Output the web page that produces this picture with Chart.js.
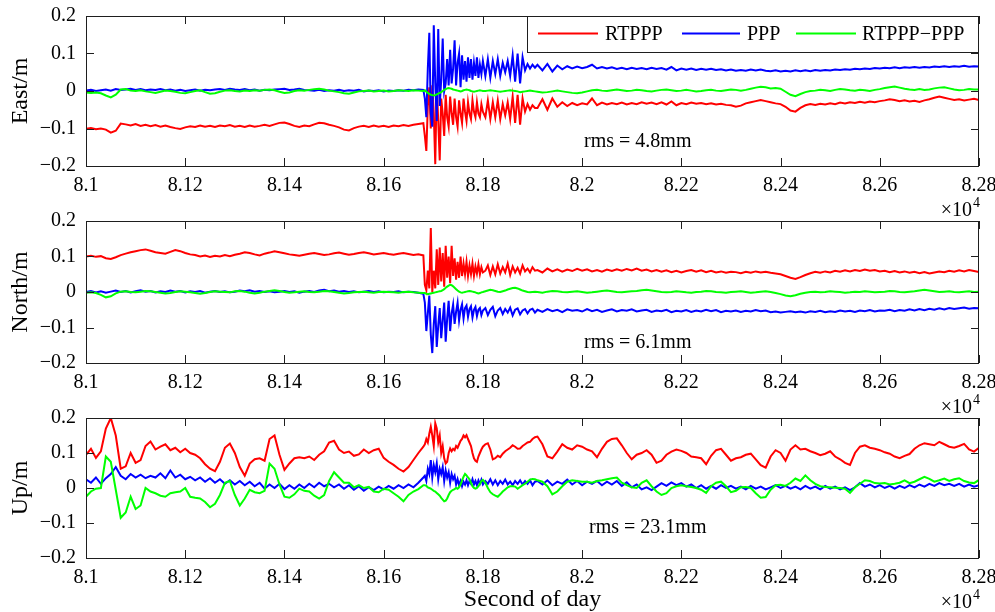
<!DOCTYPE html>
<html>
<head>
<meta charset="utf-8">
<script src="https://cdn.jsdelivr.net/npm/chart.js@4.4.0/dist/chart.umd.min.js"></script>
<style>
html,body{margin:0;padding:0;background:#fff;}
#wrap{position:relative;width:995px;height:612px;overflow:hidden;background:#fff;}
#wrap canvas{position:absolute;left:0;}
</style>
</head>
<body>
<div id="wrap">
<canvas id="c1" width="995" height="225" style="top:0px"></canvas>
<canvas id="c2" width="995" height="225" style="top:195px"></canvas>
<canvas id="c3" width="995" height="220" style="top:392px"></canvas>
</div>
<script>
// ---------------- data (values in mm, x in seconds of day) ----------------
const timeSegments = [[81000, 81680, 10], [81683, 81800, 3], [81805, 81905, 5], [81910, 82800, 10]];
const seriesLabels = ['RTPPP', 'PPP', 'RTPPP\u2212PPP'];
const panelTitles = ['East/m', 'North/m', 'Up/m'];
const rmsTexts = ['rms = 4.8mm', 'rms = 6.1mm', 'rms = 23.1mm'];
const xTickValues = [81000, 81200, 81400, 81600, 81800, 82000, 82200, 82400, 82600, 82800];
const xTickLabels = ['8.1', '8.12', '8.14', '8.16', '8.18', '8.2', '8.22', '8.24', '8.26', '8.28'];
const yTickValues = [-0.2, -0.1, 0, 0.1, 0.2];
const yTickLabels = ['\u22120.2', '\u22120.1', '0', '0.1', '0.2'];
const xAxisTitle = 'Second of day';

const eastRtppp = [
-101,-99,-102,-100,-103,-111,-106,-87,-89,-92, -88,-93,-90,-94,-91,-95,-92,-96,-99,-101, -97,-94,-96,-92,-95,-93,-96,-92,-94,-91, -95,-93,-96,-92,-95,-93,-90,-93,-89,-85, -84,-88,-93,-96,-92,-94,-89,-85,-86,-90, -93,-97,-103,-105,-99,-95,-93,-96,-92,-95, -93,-96,-92,-94,-91,-93,-90,-88,-86,
-120,-160,-40,10,-100,15,-60,-195,20,-80, -185,-20,-60,-120,-10,-70,-95,-15,-60,-90, -20,-70,-95,-25,-60,-85,-20,-55,-80,-30, -60,-75,-25,-55,-70,-30,-60,-70,-35,-55,
-70,-25,-75,-30,-70,-25,-75,-35,-65,-30,-75,-15,-85,-10,-90,-20,-55,-35,-50,-38,-45,
-45,-22,-50,-20,-42,-30,-40,-32,-38,-33, -36,-20,-38,-31,-36,-32,-35,-31,-36,-32, -35,-30,-34,-31,-35,-30,-36,-28,-38,-32, -35,-31,-34,-32,-35,-33,-36,-34,-37,-38, -42,-39,-33,-30,-27,-24,-27,-30,-33,-35, -42,-52,-55,-45,-38,-35,-37,-34,-36,-33, -35,-31,-33,-30,-32,-29,-31,-28,-30,-27, -25,-22,-24,-27,-25,-28,-26,-29,-25,-22, -18,-15,-18,-21,-24,-22,-25,-23,-21,-24];
const eastPpp = [
1,3,0,2,4,1,5,3,4,6, 3,5,2,4,3,5,2,4,1,3, 0,2,4,1,3,2,4,5,3,6, 4,3,5,2,4,1,3,2,4,5, 6,3,4,6,3,2,1,3,0,2, 1,3,0,2,1,3,-1,1,0,2, -1,1,0,2,1,3,2,4,3,
-20,-70,60,155,-60,-95,175,20,-80,165, -40,30,140,0,20,85,15,110,20,60, 135,15,75,100,10,95,30,80,25,90, 35,85,30,75,40,90,35,70,45,80,
40,85,35,80,45,85,40,75,50,80,40,95,25,100,20,90,55,72,60,70,62,
70,55,72,52,68,58,66,60,65,61, 64,70,60,64,60,63,59,62,58,62, 59,61,58,62,59,61,57,64,55,60, 57,60,56,59,57,59,56,58,55,57, 54,56,54,57,55,57,54,53,55,52, 54,52,55,53,55,53,56,54,56,55, 57,56,58,57,59,58,60,59,61,60, 62,61,63,61,63,62,64,62,64,63, 65,64,66,64,66,65,67,65,66,65];
const eastDiff = [
-4,-5,-4,-6,-12,-17,-10,4,5,1, 0,2,-1,-3,-5,-2,1,0,-2,-5, -6,-3,0,2,-3,-7,-6,-2,1,2, 0,-1,1,0,2,1,3,4,2,-2, -5,-4,0,2,1,3,5,6,4,1, -1,-3,-6,-7,-4,-1,0,1,-1,0, 1,-1,0,2,1,0,2,1,0,
2,-2,-5,-8,-10,-11,-12,-11,-9,-7, -5,-3,0,3,5,7,8,7,6,4, 3,2,1,0,-1,0,2,3,4,3, 2,0,-1,-2,-1,0,1,2,1,0,
0,1,2,1,0,-1,-2,-1,0,1,2,1,0,-1,-3,-2,-1,0,1,0,-1,
-2,-4,-3,-1,1,-1,-3,-5,-6,-4, -1,2,3,1,0,2,4,2,0,1, 3,2,0,-1,1,3,4,2,0,1, 3,1,-1,0,2,3,1,0,2,4, 3,1,3,6,9,11,10,7,8,6, -2,-10,-14,-8,-3,0,1,3,2,0, 3,5,4,2,1,3,2,0,3,5, 8,10,12,9,6,4,3,5,3,4, 7,9,10,7,4,2,3,5,4,4];

const northRtppp = [
100,102,99,101,95,93,98,104,108,112, 115,118,120,116,112,110,108,113,118,115, 110,106,104,100,103,99,102,100,104,101, 105,108,112,110,106,103,108,111,115,112, 109,106,104,102,105,108,110,107,104,106, 109,111,108,105,107,110,112,109,106,108, 110,107,105,108,110,107,104,106,103,
20,5,60,10,180,0,60,10,120,20, 125,30,110,15,130,40,100,25,130,45, 95,35,85,40,100,45,80,50,85,45, 75,50,80,45,72,52,78,50,70,55,
60,75,48,72,50,78,52,70,55,80,48,72,55,68,52,75,58,66,55,70,60,
62,55,66,58,64,57,63,59,65,60, 64,58,62,57,63,59,64,60,65,61, 66,60,63,58,62,57,61,56,60,55, 59,62,57,61,56,60,55,58,54,57, 56,53,57,54,58,55,57,54,52,50, 45,40,37,42,48,53,57,54,58,55, 60,57,61,58,62,59,63,60,62,58, 60,56,59,55,58,54,57,53,56,52, 55,58,56,60,57,61,58,62,59,56];
const northPpp = [
0,3,-1,2,-2,1,4,0,3,-1, 2,5,1,3,-1,2,0,4,1,3, -1,2,0,3,-2,1,3,0,2,-1, 1,4,2,5,1,3,0,2,-1,1, 3,0,2,-2,1,3,0,4,6,2, 4,1,3,0,2,-1,1,3,0,2, -1,1,0,2,-1,1,0,-2,-5,
-30,-110,-60,-10,-120,-172,-90,-40,-155,-95, -45,-130,-80,-30,-140,-75,-25,-110,-60,-35, -90,-55,-30,-80,-50,-35,-75,-45,-38,-70, -48,-40,-72,-50,-42,-68,-50,-45,-65,-52,
-45,-65,-50,-42,-68,-52,-45,-62,-48,-58,-44,-66,-50,-46,-63,-52,-48,-60,-50,-47,-58,
-50,-56,-48,-54,-50,-57,-49,-53,-51,-55, -48,-54,-50,-56,-52,-49,-55,-51,-53,-49, -55,-52,-50,-56,-52,-54,-50,-57,-53,-55, -51,-56,-52,-55,-50,-54,-51,-57,-53,-55, -52,-56,-53,-55,-51,-54,-52,-57,-55,-58, -56,-54,-57,-55,-58,-54,-56,-53,-57,-54, -56,-52,-55,-53,-56,-52,-54,-51,-55,-52, -53,-50,-54,-51,-53,-49,-52,-48,-51,-47, -50,-46,-49,-45,-48,-46,-44,-47,-45,-46];
const northDiff = [
-2,-1,-3,-8,-15,-12,-4,1,2,0, -1,1,3,2,0,-2,-4,-3,0,2, 1,-1,-3,-5,-3,0,2,1,0,-1, 2,3,1,-2,-4,-2,1,3,5,3, 0,-2,-1,1,2,0,-1,1,3,2, 0,-2,-4,-3,-1,0,1,-1,-2,0, 1,0,-1,-2,0,1,-1,-2,-3,
-3,-5,-6,-5,-4,-3,-2,-1,0,1, 2,3,5,8,12,15,18,20,19,16, 12,8,4,1,-1,-2,-1,0,1,2, 3,2,1,0,-1,-3,-4,-3,-1,0,
2,4,6,5,3,1,0,2,4,7,9,11,12,10,7,4,2,0,-1,0,1,
0,-2,1,3,2,0,-1,1,2,0, -2,-1,1,3,4,2,0,-1,1,2, 3,5,6,4,2,0,-1,0,2,1, -1,-2,0,1,3,2,0,-1,-2,0, 1,2,0,-2,-1,1,2,0,-3,-6, -10,-12,-9,-5,-2,0,1,-1,0,2, 1,0,-2,-1,1,0,2,1,-1,0, 1,3,2,0,-1,1,2,4,6,4, 2,0,1,2,0,-1,1,2,0,1];

const upRtppp = [
95,112,86,105,170,200,150,55,62,100, 72,80,120,133,110,118,125,108,115,102, 112,100,95,85,68,55,48,75,115,127, 100,60,35,70,82,85,78,140,150,95, 52,70,85,88,85,90,80,95,105,130, 135,110,100,104,92,96,110,100,108,112, 86,75,66,55,47,60,80,100,118,
125,140,130,155,175,150,120,185,170,130, 150,100,120,85,70,75,100,113,105,112, 108,120,115,125,135,140,150,145,151,140, 130,120,100,85,78,75,90,100,110,118,
125,128,110,82,85,92,88,98,105,110,115,122,118,112,113,120,125,130,132,140,145,
147,125,90,85,104,125,115,110,122,118, 110,105,88,112,132,140,142,122,100,82, 95,100,108,95,72,78,95,104,110,106, 100,90,88,85,68,92,108,112,95,78, 85,88,95,98,82,65,58,90,108,100, 78,110,122,110,112,105,100,94,98,105, 90,82,72,66,100,118,122,115,112,108, 102,98,90,85,92,97,112,122,128,125, 122,132,125,118,115,120,126,110,104,115];
const upPpp = [
25,15,30,12,28,40,60,35,25,40, 30,38,28,35,30,42,28,50,30,38, 25,32,22,30,18,28,15,25,12,22, 10,20,8,18,5,15,-2,10,0,12, -3,8,-2,10,0,12,2,15,5,12, 2,10,-2,8,-5,5,-8,2,-6,4, -4,6,-2,8,0,10,2,15,30,
35,20,55,40,80,30,65,45,70,25, 55,40,60,20,50,30,45,15,40,25, 35,10,25,8,20,5,18,10,22,8, 20,12,25,10,20,8,22,12,24,10,
20,12,25,10,22,8,20,12,24,10,18,8,20,12,22,10,20,12,22,8,18,
20,10,22,8,18,12,24,10,20,8, 18,12,20,8,18,10,20,6,16,2, 10,-4,2,-6,4,14,6,16,8,14, 4,10,0,8,-2,6,-2,8,0,6, -2,4,-4,6,-2,4,-4,2,8,0, 6,-2,4,-4,6,-2,4,-4,6,-2, 4,-4,2,-6,2,14,4,10,2,8, 0,6,-2,6,0,8,2,10,4,12, 6,14,8,12,6,12,4,10,4,8];
const upDiff = [
-25,-10,-2,0,90,75,-5,-85,-70,-25, -60,-50,0,-10,-15,-22,-25,-15,-12,-10, 0,-25,-28,-30,-40,-55,-45,-20,15,20, -20,-50,-30,-5,-12,-15,-8,70,55,10, -25,-28,-18,-2,-8,-10,-22,-30,-20,20, 45,30,15,15,2,8,0,3,-10,-12, -2,-5,-15,-25,-38,-20,-10,-3,8,
8,6,2,0,-2,-5,-8,-10,-14,-18, -22,-28,-33,-38,-36,-30,-20,-12,-8,-5, -3,0,-2,2,10,22,32,40,36,30, 25,15,5,0,-2,0,5,12,20,23,
15,0,-12,-18,-22,-25,-18,-10,-4,2,5,5,4,-2,3,8,12,18,24,26,25,
22,18,5,-18,-10,5,18,22,20,18, 18,15,20,22,25,28,30,15,8,2, 0,15,22,5,-10,-20,-15,0,5,8, 5,3,0,-5,-14,5,15,18,5,-12, -8,2,3,0,-15,-28,-26,-5,8,9, 6,15,27,20,36,22,12,5,3,2, 1,0,-2,-14,2,12,22,20,14,13, 14,10,12,15,22,14,18,25,32,26, 18,22,27,20,25,28,20,16,14,23];

// ---------------- chart building ----------------
const FONT = '"Liberation Serif", "Times New Roman", serif';
const COLORS = ['#ff0000', '#0000ff', '#00ff00'];
const TICK = 8;

const sampleTimes = [];
for (const [a, b, s] of timeSegments) for (let t = a; t <= b; t += s) sampleTimes.push(t);

function toPoints(mm) {
  const pts = [];
  for (let i = 0; i < sampleTimes.length && i < mm.length; i++) pts.push({x: sampleTimes[i], y: mm[i] / 1000});
  return pts;
}

const decorPlugin = {
  id: 'decor',
  afterDraw(chart, args, o) {
    const {ctx, chartArea: a, scales: {x, y}} = chart;
    ctx.save();
    ctx.strokeStyle = '#1e1e1e';
    ctx.lineWidth = 1;
    ctx.beginPath();
    for (const v of xTickValues) {
      const px = Math.round(x.getPixelForValue(v)) + 0.5;
      ctx.moveTo(px, a.bottom); ctx.lineTo(px, a.bottom - TICK);
      ctx.moveTo(px, a.top); ctx.lineTo(px, a.top + TICK);
    }
    for (const v of yTickValues) {
      const py = Math.round(y.getPixelForValue(v)) + 0.5;
      ctx.moveTo(a.left, py); ctx.lineTo(a.left + TICK, py);
      ctx.moveTo(a.right, py); ctx.lineTo(a.right - TICK, py);
    }
    ctx.stroke();
    ctx.strokeRect(Math.round(a.left) + 0.5, Math.round(a.top) + 0.5, Math.round(a.width) - 1, Math.round(a.height));

    ctx.fillStyle = '#000';
    // rms annotation
    ctx.font = '20px ' + FONT;
    ctx.textBaseline = 'middle';
    ctx.textAlign = 'left';
    ctx.fillText(o.rms, x.getPixelForValue(o.rmsX), y.getPixelForValue(o.rmsY));

    // x10^4 multiplier
    const rx = a.right;
    ctx.textAlign = 'right';
    ctx.font = '20px ' + FONT;
    ctx.fillText('\u00d710', rx - 7, a.bottom + 45);
    ctx.textAlign = 'left';
    ctx.font = '14px ' + FONT;
    ctx.fillText('4', rx - 6, a.bottom + 37);

    // legend
    if (o.legend) {
      const lw = 452, lh = 36;
      const lx = Math.round(a.right) - lw, ly = Math.round(a.top);
      ctx.fillStyle = '#fff';
      ctx.fillRect(lx, ly, lw, lh);
      ctx.strokeStyle = '#1e1e1e';
      ctx.strokeRect(lx + 0.5, ly + 0.5, lw - 1, lh);
      const entries = [[11, 71, 78], [155, 213, 220], [269, 329, 335]];
      ctx.font = '20px ' + FONT;
      ctx.textBaseline = 'middle';
      chart.data.datasets.forEach((ds, i) => {
        const [l0, l1, tx] = entries[i];
        const cy = ly + 17.5;
        ctx.strokeStyle = ds.borderColor;
        ctx.lineWidth = 2;
        ctx.beginPath(); ctx.moveTo(lx + l0, cy); ctx.lineTo(lx + l1, cy); ctx.stroke();
        ctx.fillStyle = '#000';
        ctx.fillText(ds.label, lx + tx, cy + 1);
      });
    }
    ctx.restore();
  }
};

const panelDefs = [
  {id: 'c1', series: [eastRtppp, eastPpp, eastDiff], padTop: 16, xAxisH: 59, rmsX: 82004, rmsY: -0.136, legend: true, xTitle: false},
  {id: 'c2', series: [northRtppp, northPpp, northDiff], padTop: 26, xAxisH: 57, rmsX: 82004, rmsY: -0.144, legend: false, xTitle: false},
  {id: 'c3', series: [upRtppp, upPpp, upDiff], padTop: 26, xAxisH: 54, rmsX: 82014, rmsY: -0.114, legend: false, xTitle: true}
];

panelDefs.forEach((p, idx) => {
  new Chart(document.getElementById(p.id), {
    type: 'line',
    data: {
      datasets: p.series.map((s, i) => ({
        label: seriesLabels[i],
        data: toPoints(s),
        borderColor: COLORS[i],
        backgroundColor: COLORS[i],
        borderWidth: 2,
        pointRadius: 0,
        tension: 0,
        fill: false,
        order: 3 - i
      }))
    },
    options: {
      responsive: false,
      animation: false,
      devicePixelRatio: 1,
      events: [],
      layout: {padding: {top: p.padTop, right: 16, left: 0, bottom: 0}},
      plugins: {
        legend: {display: false},
        tooltip: {enabled: false},
        decor: {rms: rmsTexts[idx], rmsX: p.rmsX, rmsY: p.rmsY, legend: p.legend}
      },
      scales: {
        x: {
          type: 'linear', min: 81000, max: 82800,
          afterBuildTicks: s => { s.ticks = xTickValues.map(v => ({value: v})); },
          afterFit: s => { s.height = p.xAxisH; s.paddingLeft = 0; s.paddingRight = 0; },
          grid: {display: false, drawTicks: false},
          border: {display: false},
          ticks: {
            autoSkip: false, maxRotation: 0, padding: 8, color: '#000',
            font: {family: FONT, size: 20},
            callback: v => xTickLabels[xTickValues.indexOf(v)]
          },
          title: {display: p.xTitle, text: xAxisTitle, color: '#000', font: {family: FONT, size: 24, lineHeight: 1}, padding: {top: 0, bottom: 0}}
        },
        y: {
          min: -0.2, max: 0.2,
          afterBuildTicks: s => { s.ticks = yTickValues.map(v => ({value: v})); },
          afterFit: s => { s.width = 86; s.paddingTop = 0; s.paddingBottom = 0; },
          grid: {display: false, drawTicks: false},
          border: {display: false},
          ticks: {
            padding: 10, color: '#000',
            font: {family: FONT, size: 20},
            callback: v => yTickLabels[yTickValues.indexOf(v)]
          },
          title: {display: true, text: panelTitles[idx], color: '#000', font: {family: FONT, size: 24}, padding: {top: 6, bottom: 0}}
        }
      }
    },
    plugins: [decorPlugin]
  });
});
</script>
</body>
</html>
